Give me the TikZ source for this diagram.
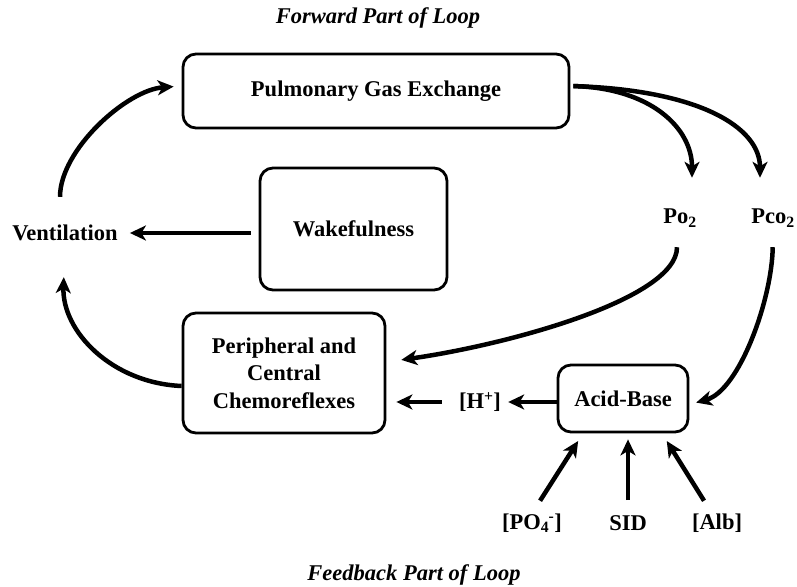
\documentclass[tikz,border=0pt]{standalone}
\usepackage{fontspec}
\setmainfont{Liberation Serif}
\usetikzlibrary{arrows.meta}

\begin{document}
\begin{tikzpicture}[
  x=1pt, y=1pt,
  every node/.style={font=\bfseries\fontsize{22.5}{27.5}\selectfont},
  box/.style={draw, line width=2.8pt, rounded corners=13pt, align=center, inner sep=0pt},
  lbl/.style={inner sep=0pt},
  title/.style={font=\bfseries\itshape\fontsize{22.5}{27}\selectfont},
  flow/.style={line width=4.5pt, -{Stealth[length=16pt, width=15pt, inset=4.5pt]}}
]
\useasboundingbox (0,0) rectangle (797,586);

% loop headings
\node[title] (fwd) at (378,568) {Forward Part of Loop};
\node[title] (fbk) at (414,11) {Feedback Part of Loop};

% boxes
\node[box, minimum width=386pt, minimum height=74pt] (pge) at (376,495) {Pulmonary Gas Exchange};
\node[box, minimum width=187pt, minimum height=122pt] (wake) at (353.5,357) {Wakefulness};
\node[box, minimum width=202pt, minimum height=120pt] (chemo) at (284,213) {Peripheral and\\Central\\Chemoreflexes};
\node[box, minimum width=130pt, minimum height=67pt] (acid) at (623,187.5) {Acid-Base};

% plain labels
\node[lbl] (vent) at (65,353) {Ventilation};
\node[lbl] (po2) at (680,368) {Po\textsubscript{2}};
\node[lbl] (pco2) at (773,368) {Pco\textsubscript{2}};
\node[lbl] (hplus) at (480,184) {[H\textsuperscript{+}]};
\node[lbl] (po4) at (532,63) {[PO\textsubscript{4}\kern-0.5pt\textsuperscript{-}]};
\node[lbl] (sid) at (628,63) {SID};
\node[lbl] (alb) at (717,63) {[Alb]};

% forward part
\draw[flow, shorten <=8pt, shorten >=12pt] (vent.east -| wake.west) -- (vent.east);
\draw[flow, shorten <=28pt, shorten >=8pt] ([xshift=-5pt]vent.north)
  .. controls +(0,75) and +(-55,-4) .. ([yshift=5pt]pge.west);
\draw[flow, shorten <=3pt] ([yshift=5pt]pge.east)
  .. controls +(80,-2) and +(0,50) .. ([xshift=12pt,yshift=31pt]po2.north);
\draw[flow, shorten <=3pt] ([yshift=5pt]pge.east)
  .. controls +(130,-4) and +(0,50) .. ([xshift=-13pt,yshift=31pt]pco2.north);

% feedback part
\draw[flow, shorten <=20pt, shorten >=15pt] ([xshift=-3pt]po2.south)
  .. controls +(0,-72) and +(120,17) .. ([yshift=11pt]chemo.east);
\draw[flow, shorten <=20pt, shorten >=7pt] (pco2.south)
  .. controls +(-1,-72) and +(50,14) .. ([yshift=-6pt]acid.east);
\draw[flow] (hplus.east -| acid.west) -- ([xshift=7pt]hplus.east);
\draw[flow, shorten <=17pt, shorten >=10pt] (hplus.west) -- (hplus.west -| chemo.east);
\draw[flow, shorten >=36pt] ([yshift=-13pt]chemo.west)
  .. controls +(-70,3) and +(-3,-90) .. (vent.south);

% acid-base inputs
\draw[flow, shorten <=15pt, shorten >=9pt] (po4.north) -- ([xshift=-40pt]acid.south);
\draw[flow, shorten <=15pt, shorten >=6pt] (sid.north) -- (sid.north |- acid.south);
\draw[flow, shorten <=15pt, shorten >=9pt] ([xshift=-5pt]alb.north) -- ([xshift=39pt]acid.south);
\end{tikzpicture}
\end{document}
